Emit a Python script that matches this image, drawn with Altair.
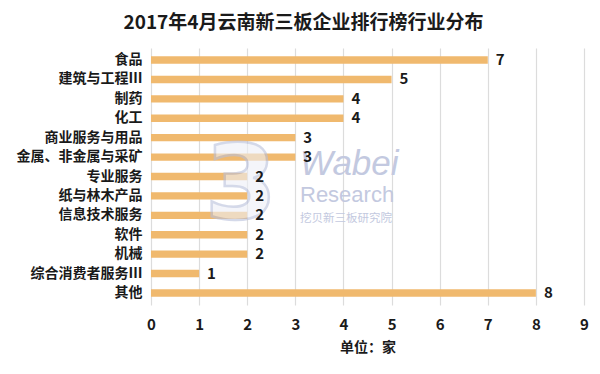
import altair as alt
import pandas as pd

categories = ["食品", "建筑与工程Ⅲ", "制药", "化工", "商业服务与用品", "金属、非金属与采矿",
              "专业服务", "纸与林木产品", "信息技术服务", "软件", "机械", "综合消费者服务Ⅲ", "其他"]
values = [7, 5, 4, 4, 3, 3, 2, 2, 2, 2, 2, 1, 8]
x_ticks = list(range(0, 10))

title_text = "2017年4月云南新三板企业排行榜行业分布"
x_title = "单位：家"

FONT = "Noto Sans CJK SC"
BAR = "#F0B96E"
TXT = "#1a1a1a"
WM = "#c3c9e0"

df = pd.DataFrame({"cat": categories, "val": values})

y_enc = alt.Y("cat:N", sort=categories,
              scale=alt.Scale(paddingInner=0.62, paddingOuter=0.43),
              axis=alt.Axis(title=None, labelFont=FONT, labelFontSize=14, labelFontWeight="bold",
                            labelColor=TXT, ticks=False, domain=False, labelPadding=9, grid=False))
x_enc = alt.X("val:Q", scale=alt.Scale(domain=[0, 9], nice=False),
              axis=alt.Axis(values=x_ticks, title=x_title, titleFont=FONT, titleFontSize=14,
                            titleFontWeight="bold", titleColor=TXT, titlePadding=8,
                            labelFont=FONT, labelFontSize=15, labelFontWeight="bold", labelColor=TXT,
                            labelPadding=12, labelFlush=False, ticks=False, domain=False, grid=True,
                            gridColor="#dcdcdc", gridWidth=1.2, format="d"))

bars = alt.Chart(df).mark_bar(color=BAR).encode(x=x_enc, y=y_enc)
labels = alt.Chart(df).mark_text(align="left", dx=8, font=FONT, fontSize=15, fontWeight="bold",
                                 color=TXT).encode(x="val:Q", y=alt.Y("cat:N", sort=categories), text="val:Q")

wm4 = alt.Chart(pd.DataFrame({"t": ["3"]})).mark_text(
    align="center", baseline="middle", font="DejaVu Sans", fontSize=104, fontWeight="bold",
    color="#eef0f7", stroke="#b9c0dc", strokeWidth=2.5, opacity=0.6).encode(
    x=alt.value(90), y=alt.value(140), text="t:N")
wm1 = alt.Chart(pd.DataFrame({"t": ["Wabei"]})).mark_text(
    align="left", baseline="alphabetic", font="Liberation Sans", fontSize=35, fontStyle="italic",
    fontWeight="normal", color=WM).encode(x=alt.value(149), y=alt.value(127), text="t:N")
wm2 = alt.Chart(pd.DataFrame({"t": ["Research"]})).mark_text(
    align="left", baseline="alphabetic", font="Liberation Sans", fontSize=22,
    color=WM).encode(x=alt.value(149), y=alt.value(154), text="t:N")
wm3 = alt.Chart(pd.DataFrame({"t": ["挖贝新三板研究院"]})).mark_text(
    align="left", baseline="alphabetic", font=FONT, fontSize=11.5,
    color=WM).encode(x=alt.value(149), y=alt.value(174), text="t:N")

chart = alt.layer(bars, wm4, wm1, wm2, wm3, labels).properties(
    width=433, height=257,
    autosize=alt.AutoSizeParams(type="none"),
    padding={"left": 143, "top": 40, "right": 6, "bottom": 54},
    title=alt.TitleParams(title_text, font=FONT, fontSize=19, fontWeight="bold", color=TXT,
                          anchor="middle", dx=-64, offset=15),
    background="white",
).configure_view(stroke=None)

chart.save("out.html", embed_options={"renderer": "svg", "actions": False})
